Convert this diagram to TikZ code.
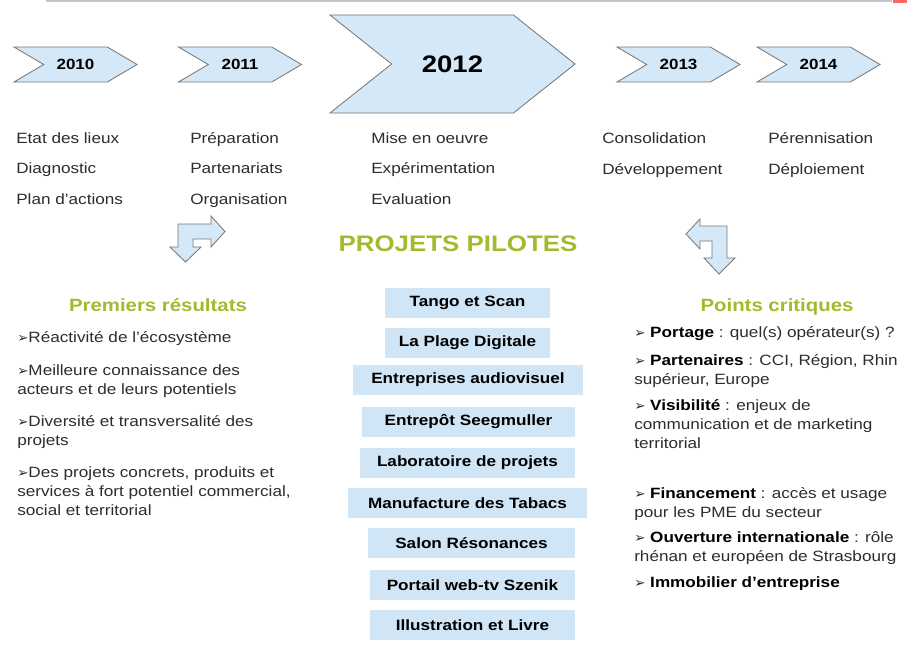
\documentclass[tikz,border=0pt]{standalone}
\usepackage{fontspec}
\setmainfont{Liberation Sans}[FakeStretch=1.15]
\newfontfamily\symfont{DejaVu Sans}
\usetikzlibrary{shapes.symbols}
\definecolor{chevblue}{RGB}{212,232,247}
\definecolor{boxblue}{RGB}{208,230,246}
\definecolor{pilotgreen}{RGB}{165,185,45}
\definecolor{textgray}{RGB}{45,45,45}
\definecolor{edgegray}{RGB}{120,120,120}
\newcommand{\itemarrow}{{\symfont\fontsize{9.5}{9.5}\selectfont ➢}}
\newcommand{\keyword}[1]{\textcolor{black}{\bfseries #1}}
\tikzset{
  yearbox/.style={shape=signal, signal from=west, signal to=east, signal pointer angle=61, draw=edgegray, line width=0.6pt, fill=chevblue, minimum width=3.075cm, minimum height=0.875cm, inner sep=0pt, font=\bfseries\fontsize{10.5}{12}\selectfont},
  bigyearbox/.style={yearbox, signal pointer angle=77, minimum width=6.125cm, minimum height=2.45cm, font=\bfseries\fontsize{17}{20}\selectfont},
  phasetext/.style={anchor=base west, align=left, inner sep=0pt, text=textgray, font=\fontsize{10.6}{21.6}\selectfont},
  headtext/.style={anchor=base, inner sep=0pt, text=pilotgreen, font=\bfseries\fontsize{12.6}{15}\selectfont},
  pilotbox/.style={fill=boxblue, minimum height=0.75cm, inner sep=0pt, font=\bfseries\fontsize{10.6}{13}\selectfont},
  itemtext/.style={anchor=base west, align=left, inner sep=0pt, text=textgray, font=\fontsize{10.6}{13.2}\selectfont},
  bentarrow/.style={draw=edgegray, fill=chevblue, line width=0.6pt, line join=miter}
}
\begin{document}
\begin{tikzpicture}[x=0.025cm,y=-0.025cm]
\useasboundingbox[fill=white] (0,0) rectangle (907,646);
\draw[gray!45, line width=0.8pt] (46,1) -- (892,1);
\fill[red!60] (893,0) rectangle (907,3);

% timeline
\node[yearbox] (y2010) at (75.5,64.5) {2010};
\node[yearbox] (y2011) at (240,64.5) {2011};
\node[bigyearbox] (y2012) at (452.5,64) {2012};
\node[yearbox] (y2013) at (678.5,64.5) {2013};
\node[yearbox] (y2014) at (818.5,64.5) {2014};

% base = last line
\node[phasetext] (p2010) at (16,204) {Etat des lieux\\Diagnostic\\Plan d’actions};
\node[phasetext] (p2011) at (190,204) {Préparation\\Partenariats\\Organisation};
\node[phasetext] (p2012) at (371,204) {Mise en oeuvre\\Expérimentation\\Evaluation};
\node[phasetext] (p2013) at (602,174) {Consolidation\\Développement};
\node[phasetext] (p2014) at (768,174) {Pérennisation\\Déploiement};

\draw[bentarrow] (178,224) -- (211,224) -- (211,216) -- (225,231.5) -- (211,247) -- (211,239) -- (193,239) -- (193,247) -- (201,247) -- (185.5,262) -- (170,247) -- (178,247) -- cycle;
\draw[bentarrow] (727,226) -- (700,226) -- (700,219) -- (686,234) -- (700,249) -- (700,241) -- (712,241) -- (712,258) -- (704,258) -- (719,274) -- (735,258) -- (727,258) -- cycle;

% projets pilotes
\node[headtext, font=\bfseries\fontsize{16}{19}\selectfont] (pilotes) at (458,251) {PROJETS PILOTES};
\node[pilotbox, minimum width=4.125cm] (tango) at (467.5,303) {Tango et Scan};
\node[pilotbox, minimum width=4.125cm] (plage) at (467.5,343) {La Plage Digitale};
\node[pilotbox, minimum width=5.75cm] (audiovisuel) at (468,380) {Entreprises audiovisuel};
\node[pilotbox, minimum width=5.325cm] (entrepot) at (468.5,422) {Entrepôt Seegmuller};
\node[pilotbox, minimum width=5.375cm] (labo) at (467.5,463) {Laboratoire de projets};
\node[pilotbox, minimum width=5.975cm] (manufacture) at (467.5,503) {Manufacture des Tabacs};
\node[pilotbox, minimum width=5.175cm] (salon) at (471.5,543) {Salon Résonances};
\node[pilotbox, minimum width=5.125cm] (portail) at (472.5,585) {Portail web-tv Szenik};
\node[pilotbox, minimum width=5.125cm] (illustration) at (472.5,625) {Illustration et Livre};

% resultats
\node[headtext] (resultats) at (158,311) {Premiers résultats};
\node[itemtext] (res1) at (17,342) {\itemarrow Réactivité de l’écosystème};
\node[itemtext] (res2) at (17,394) {\itemarrow Meilleure connaissance des\\acteurs et de leurs potentiels};
\node[itemtext] (res3) at (17,445) {\itemarrow Diversité et transversalité des\\projets};
\node[itemtext] (res4) at (17,515) {\itemarrow Des projets concrets, produits et\\services à fort potentiel commercial,\\social et territorial};

% points critiques
\node[headtext] (critiques) at (777,311) {Points critiques};
\node[itemtext] (crit1) at (634,337) {\itemarrow\ \keyword{Portage} : quel(s) opérateur(s) ?};
\node[itemtext] (crit2) at (634,384) {\itemarrow\ \keyword{Partenaires} : CCI, Région, Rhin\\supérieur, Europe};
\node[itemtext] (crit3) at (634,448) {\itemarrow\ \keyword{Visibilité} : enjeux de\\communication et de marketing\\territorial};
\node[itemtext] (crit4) at (634,517) {\itemarrow\ \keyword{Financement} : accès et usage\\pour les PME du secteur};
\node[itemtext] (crit5) at (634,561) {\itemarrow\ \keyword{Ouverture internationale} : rôle\\rhénan et européen de Strasbourg};
\node[itemtext] (crit6) at (634,587) {\itemarrow\ \keyword{Immobilier d’entreprise}};
\end{tikzpicture}
\end{document}
